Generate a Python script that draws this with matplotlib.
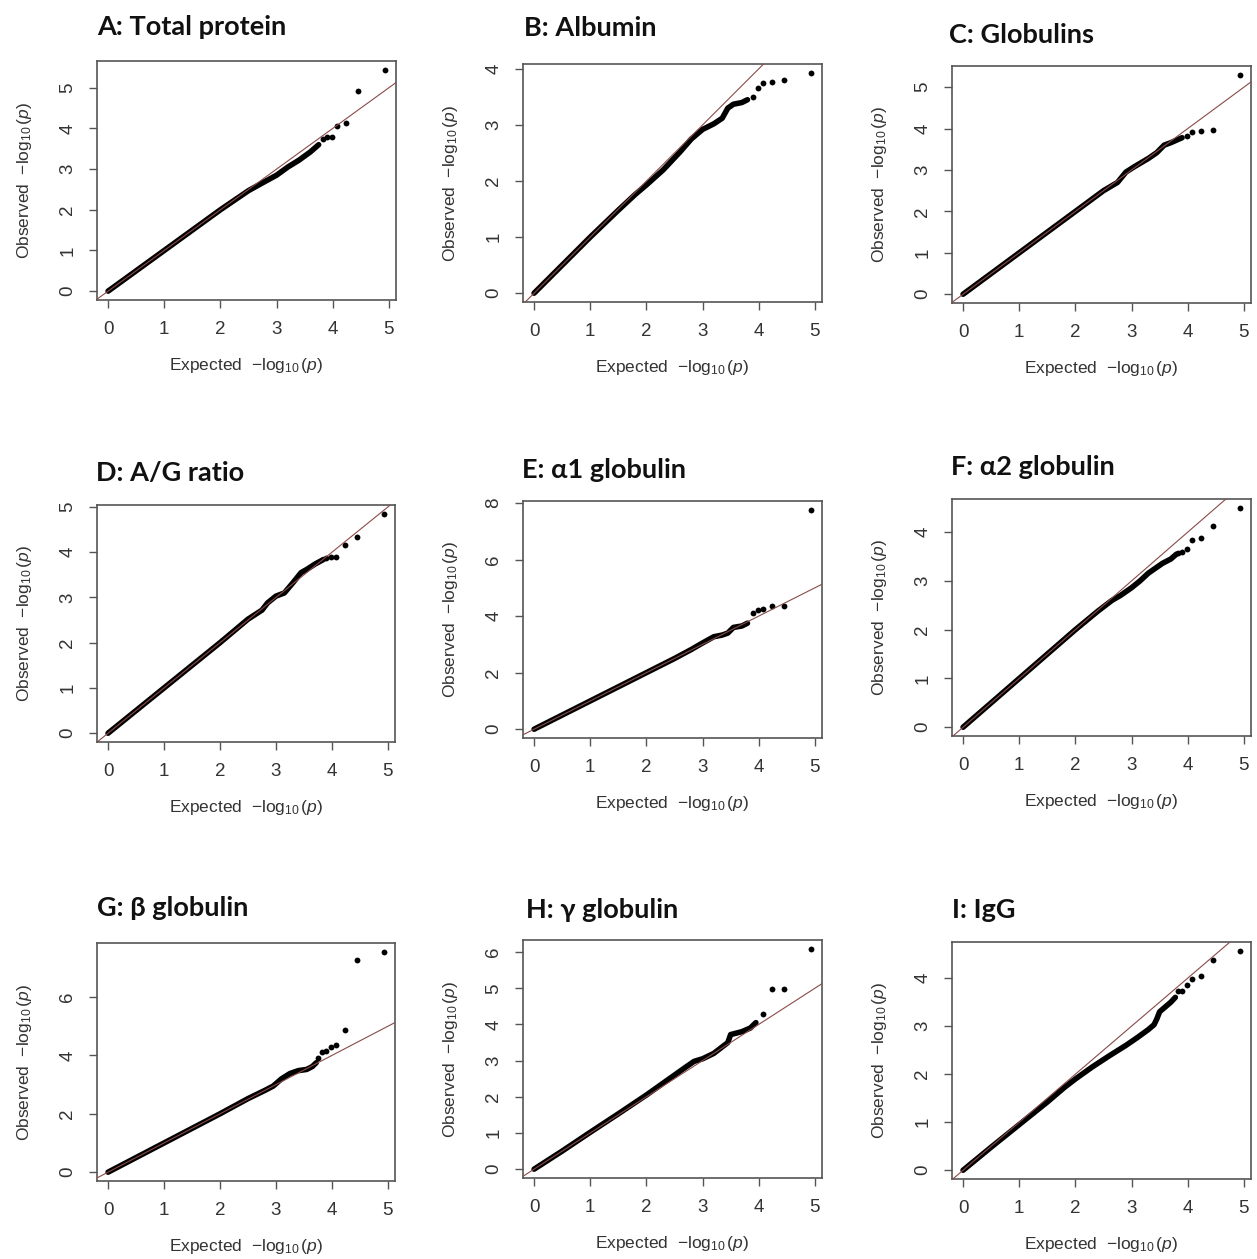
import matplotlib
matplotlib.use("Agg")
import matplotlib.pyplot as plt
from matplotlib.ticker import MultipleLocator

plt.rcParams['mathtext.fontset'] = 'custom'
plt.rcParams['mathtext.rm'] = 'Liberation Sans'
plt.rcParams['mathtext.it'] = 'Liberation Sans:italic'
plt.rcParams['font.family'] = ['Liberation Sans', 'DejaVu Sans']

# ---------------- data ----------------
titles = ["A: Total protein", "B: Albumin", "C: Globulins",
          "D: A/G ratio", "E: \u03b11 globulin", "F: \u03b12 globulin",
          "G: \u03b2 globulin", "H: \u03b3 globulin", "I: IgG"]

# dense band of points (expected, observed)
band_x_A = [0, 0.5, 1, 1.5, 2, 2.5, 2.8, 3.0, 3.2, 3.4, 3.6, 3.75]
band_y_A = [0, 0.5, 1.0, 1.5, 2.0, 2.47, 2.7, 2.85, 3.05, 3.22, 3.42, 3.6]
tail_x_A = [3.82, 3.89, 3.98, 4.08, 4.23, 4.45, 4.93]
tail_y_A = [3.75, 3.8, 3.80, 4.05, 4.14, 4.92, 5.44]

band_x_B = [0, 0.5, 1.0, 1.5, 1.8, 2.0, 2.3, 2.6, 2.8, 3.0, 3.2, 3.35, 3.45, 3.55, 3.7, 3.8]
band_y_B = [0, 0.5, 1.0, 1.48, 1.76, 1.93, 2.2, 2.52, 2.75, 2.92, 3.02, 3.12, 3.3, 3.37, 3.40, 3.45]
tail_x_B = [3.89, 3.98, 4.08, 4.23, 4.45, 4.93]
tail_y_B = [3.50, 3.66, 3.74, 3.77, 3.80, 3.93]

band_x_C = [0, 0.5, 1, 1.5, 2, 2.5, 2.75, 2.9, 3.05, 3.3, 3.45, 3.58, 3.7, 3.8, 3.9]
band_y_C = [0, 0.5, 1, 1.5, 2, 2.5, 2.7, 2.95, 3.08, 3.28, 3.42, 3.6, 3.66, 3.72, 3.78]
tail_x_C = [3.98, 4.08, 4.23, 4.45, 4.93]
tail_y_C = [3.82, 3.92, 3.95, 3.97, 5.30]

band_x_D = [0, 0.5, 1, 1.5, 2, 2.5, 2.75, 2.85, 3.0, 3.15, 3.3, 3.45, 3.55, 3.7, 3.85]
band_y_D = [0, 0.5, 1, 1.5, 2, 2.52, 2.72, 2.88, 3.03, 3.1, 3.32, 3.55, 3.62, 3.74, 3.84]
tail_x_D = [3.89, 3.98, 4.08, 4.23, 4.45, 4.93]
tail_y_D = [3.88, 3.89, 3.89, 4.15, 4.33, 4.85]

band_x_E = [0, 0.5, 1, 1.5, 2, 2.5, 2.8, 3.0, 3.2, 3.35, 3.45, 3.55, 3.7, 3.8]
band_y_E = [0, 0.5, 1, 1.5, 2, 2.5, 2.82, 3.05, 3.27, 3.33, 3.4, 3.6, 3.65, 3.75]
tail_x_E = [3.89, 3.98, 4.08, 4.23, 4.45, 4.93]
tail_y_E = [4.11, 4.20, 4.26, 4.36, 4.35, 7.76]

band_x_F = [0, 0.5, 1, 1.5, 2, 2.4, 2.65, 2.8, 3.0, 3.15, 3.3, 3.45, 3.55, 3.7, 3.8]
band_y_F = [0, 0.5, 1, 1.5, 2, 2.38, 2.6, 2.7, 2.86, 3.0, 3.16, 3.28, 3.36, 3.45, 3.55]
tail_x_F = [3.82, 3.89, 3.98, 4.08, 4.23, 4.45, 4.93]
tail_y_F = [3.58, 3.60, 3.66, 3.83, 3.88, 4.13, 4.50]

band_x_G = [0, 0.5, 1, 1.5, 2, 2.5, 2.8, 2.95, 3.1, 3.25, 3.4, 3.55, 3.65, 3.72]
band_y_G = [0, 0.5, 1, 1.5, 2, 2.52, 2.8, 2.95, 3.2, 3.38, 3.48, 3.52, 3.62, 3.75]
tail_x_G = [3.76, 3.82, 3.89, 3.98, 4.08, 4.23, 4.45, 4.93]
tail_y_G = [3.92, 4.12, 4.14, 4.28, 4.37, 4.86, 7.28, 7.55]

band_x_H = [0, 0.5, 1, 1.5, 2, 2.3, 2.5, 2.7, 2.85, 3.0, 3.2, 3.35, 3.45, 3.5, 3.7, 3.85, 3.95]
band_y_H = [0, 0.5, 1.02, 1.53, 2.05, 2.38, 2.6, 2.82, 2.98, 3.05, 3.2, 3.38, 3.5, 3.72, 3.8, 3.9, 4.05]
tail_x_H = [4.08, 4.23, 4.45, 4.93]
tail_y_H = [4.30, 4.97, 4.97, 6.09]

band_x_I = [0, 0.5, 1, 1.5, 1.8, 2.0, 2.3, 2.6, 2.9, 3.1, 3.3, 3.4, 3.45, 3.5, 3.6, 3.7, 3.78]
band_y_I = [0, 0.48, 0.95, 1.42, 1.72, 1.9, 2.15, 2.38, 2.6, 2.76, 2.93, 3.03, 3.15, 3.3, 3.4, 3.5, 3.6]
tail_x_I = [3.82, 3.89, 3.98, 4.08, 4.23, 4.45, 4.93]
tail_y_I = [3.74, 3.74, 3.86, 3.98, 4.05, 4.38, 4.57]

bands_x = [band_x_A, band_x_B, band_x_C, band_x_D, band_x_E, band_x_F, band_x_G, band_x_H, band_x_I]
bands_y = [band_y_A, band_y_B, band_y_C, band_y_D, band_y_E, band_y_F, band_y_G, band_y_H, band_y_I]
tails_x = [tail_x_A, tail_x_B, tail_x_C, tail_x_D, tail_x_E, tail_x_F, tail_x_G, tail_x_H, tail_x_I]
tails_y = [tail_y_A, tail_y_B, tail_y_C, tail_y_D, tail_y_E, tail_y_F, tail_y_G, tail_y_H, tail_y_I]
ytick_steps = [1, 1, 1, 1, 2, 1, 2, 1, 1]

# ---------------- layout (pixel boxes) ----------------
W, H = 1257, 1259
boxes = [(97, 396, 61, 300), (523, 822, 64, 302), (952, 1251, 66, 303),
         (97, 395, 505, 742), (523, 822, 501, 738), (952, 1251, 499, 736),
         (97, 395, 943, 1181), (523, 822, 940, 1178), (952, 1251, 942, 1179)]
title_pos = [(97, 27), (524, 28), (949, 35),
             (96, 473), (522, 470), (951, 467),
             (97, 908), (526, 910), (952, 910)]

fig = plt.figure(figsize=(W / 100, H / 100), dpi=100)
fig.patch.set_facecolor('white')

frame_col = '#555555'
text_col = '#333333'

for i in range(9):
    x0, x1, y0, y1 = boxes[i]
    ax = fig.add_axes([x0 / W, 1 - y1 / H, (x1 - x0) / W, (y1 - y0) / H])
    ax.plot(bands_x[i], bands_y[i], color='black', lw=4.0,
            solid_capstyle='round', solid_joinstyle='round', zorder=2)
    ax.plot(tails_x[i], tails_y[i], 'o', color='black', ms=4.2, mew=0, zorder=3)
    ax.margins(x=0.04, y=0.04)
    ax.axline((0, 0), slope=1, color='#8a4a4a', lw=0.8, zorder=4)
    ax.xaxis.set_major_locator(MultipleLocator(1))
    ax.yaxis.set_major_locator(MultipleLocator(ytick_steps[i]))
    for s in ax.spines.values():
        s.set_color(frame_col)
        s.set_linewidth(1.2)
    ax.tick_params(axis='both', direction='out', length=6, width=1.0,
                   color=frame_col, labelcolor=text_col, labelsize=13.5, pad=9)
    for lab in ax.get_yticklabels():
        lab.set_rotation(90)
        lab.set_va('center')
    ax.set_xlabel(r'Expected  $-\log_{10}(\mathit{p})$', fontsize=12.5, color=text_col, labelpad=13)
    ax.set_ylabel(r'Observed  $-\log_{10}(\mathit{p})$', fontsize=12.5, color=text_col, labelpad=18)
    tx, ty = title_pos[i]
    fig.text(tx / W, 1 - ty / H, titles[i], fontsize=19.5, fontweight='bold',
             family=['Lato', 'DejaVu Sans'], ha='left', va='center', color='#111111')

fig.savefig('out.png', dpi=100, facecolor='white')
